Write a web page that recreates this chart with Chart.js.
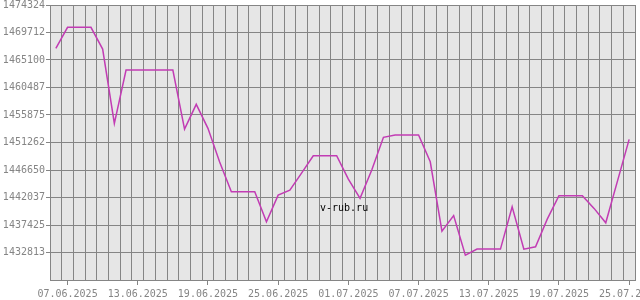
<!DOCTYPE html>
<html>
<head>
<meta charset="utf-8">
<script src="https://cdn.jsdelivr.net/npm/chart.js@4/dist/chart.umd.min.js"></script>
<style>
  html, body { margin: 0; padding: 0; background: #ffffff; }
  #chart { display: block; }
</style>
</head>
<body>
<canvas id="chart" width="640" height="300"></canvas>
<script>
// Даты (по одной на день, 06.06.2025 - 25.07.2025)
const dates = [
    '06.06.2025', '07.06.2025', '08.06.2025', '09.06.2025', '10.06.2025',
    '11.06.2025', '12.06.2025', '13.06.2025', '14.06.2025', '15.06.2025',
    '16.06.2025', '17.06.2025', '18.06.2025', '19.06.2025', '20.06.2025',
    '21.06.2025', '22.06.2025', '23.06.2025', '24.06.2025', '25.06.2025',
    '26.06.2025', '27.06.2025', '28.06.2025', '29.06.2025', '30.06.2025',
    '01.07.2025', '02.07.2025', '03.07.2025', '04.07.2025', '05.07.2025',
    '06.07.2025', '07.07.2025', '08.07.2025', '09.07.2025', '10.07.2025',
    '11.07.2025', '12.07.2025', '13.07.2025', '14.07.2025', '15.07.2025',
    '16.07.2025', '17.07.2025', '18.07.2025', '19.07.2025', '20.07.2025',
    '21.07.2025', '22.07.2025', '23.07.2025', '24.07.2025', '25.07.2025'
];

// Значения курса по дням
const values = [
    1467058, 1470582, 1470582, 1470582, 1466941,
    1454473, 1463417, 1463417, 1463417, 1463417,
    1463417, 1453517, 1457661, 1453634, 1447979,
    1442996, 1442996, 1442996, 1437962, 1442442,
    1443281, 1446134, 1449037, 1449037, 1449037,
    1445127, 1441888, 1446637, 1452124, 1452510,
    1452510, 1452510, 1448030, 1436401, 1439002,
    1432374, 1433381, 1433381, 1433381, 1440479,
    1433381, 1433767, 1438415, 1442325, 1442325,
    1442325, 1440210, 1437794, 1444791, 1451788
];

// Подписи оси Y (снизу вверх, нижняя без подписи)
const yTickLabels = ['', '1432813', '1437425', '1442037', '1446650', '1451262',
    '1455875', '1460487', '1465100', '1469712', '1474324'];
const yMin = 1428200.6;
const yMax = 1474324;

const labelEvery = 6;   // подпись каждые 6 дней
const labelFirst = 1;   // первая подпись - 07.06.2025

const gridColor = '#858585';
const textColor = '#858585';
const monoFont = { family: '"DejaVu Sans Mono", "Liberation Mono", monospace', size: 10 };

const points = values.map((v, i) => ({ x: i, y: v }));

// Фон области графика и надпись v-rub.ru
const plotBackground = {
    id: 'plotBackground',
    beforeDraw(chart) {
        const { ctx, chartArea } = chart;
        ctx.save();
        ctx.fillStyle = '#e6e6e6';
        ctx.fillRect(chartArea.left, chartArea.top, chartArea.right - chartArea.left, chartArea.bottom - chartArea.top);
        ctx.restore();
    },
    afterDraw(chart) {
        const { ctx } = chart;
        ctx.save();
        ctx.font = '10px "DejaVu Sans Mono", monospace';
        ctx.fillStyle = '#000000';
        ctx.textBaseline = 'alphabetic';
        ctx.fillText('v-rub.ru', 320, 211);
        ctx.restore();
    }
};

function isLabelTick(v) {
    return Number.isInteger(v) && (v - labelFirst) % labelEvery === 0;
}

new Chart(document.getElementById('chart'), {
    type: 'line',
    data: {
        datasets: [{
            data: points,
            borderColor: '#c23cb4',
            borderWidth: 1.5,
            pointRadius: 0,
            tension: 0,
            fill: false
        }]
    },
    options: {
        responsive: false,
        animation: false,
        devicePixelRatio: 1,
        layout: { padding: { top: 5, right: 5, left: 0, bottom: 0 } },
        plugins: {
            legend: { display: false },
            tooltip: { enabled: false }
        },
        scales: {
            x: {
                type: 'linear',
                min: -0.5,
                max: dates.length - 0.5,
                afterBuildTicks(scale) {
                    const ticks = [];
                    for (let i = 0; i <= dates.length; i++) ticks.push({ value: i - 0.5 });
                    for (let i = labelFirst; i < dates.length; i += labelEvery) ticks.push({ value: i });
                    ticks.sort((a, b) => a.value - b.value);
                    scale.ticks = ticks;
                },
                afterFit(scale) {
                    scale.height = 20;
                    scale.paddingLeft = 0;
                    scale.paddingRight = 0;
                },
                border: { display: true, color: gridColor, width: 1 },
                grid: {
                    color: (ctx) => isLabelTick(ctx.tick && ctx.tick.value) ? 'rgba(0,0,0,0)' : gridColor,
                    tickColor: (ctx) => isLabelTick(ctx.tick && ctx.tick.value) ? gridColor : 'rgba(0,0,0,0)',
                    tickLength: 5,
                    lineWidth: 1
                },
                ticks: {
                    autoSkip: false,
                    maxRotation: 0,
                    minRotation: 0,
                    padding: 3,
                    color: textColor,
                    font: monoFont,
                    callback: (v) => isLabelTick(v) ? dates[v] : ''
                }
            },
            y: {
                min: yMin,
                max: yMax,
                afterBuildTicks(scale) {
                    const step = (yMax - yMin) / (yTickLabels.length - 1);
                    scale.ticks = yTickLabels.map((t, k) => ({ value: yMin + k * step }));
                },
                afterFit(scale) {
                    scale.width = 50;
                    scale.paddingTop = 0;
                    scale.paddingBottom = 0;
                },
                border: { display: true, color: gridColor, width: 1 },
                grid: {
                    color: gridColor,
                    tickColor: (ctx) => ctx.index === 0 ? 'rgba(0,0,0,0)' : gridColor,
                    tickLength: 4,
                    lineWidth: 1
                },
                ticks: {
                    padding: 1,
                    color: textColor,
                    font: monoFont,
                    callback: (v, i) => yTickLabels[i]
                }
            }
        }
    },
    plugins: [plotBackground]
});
</script>
</body>
</html>
